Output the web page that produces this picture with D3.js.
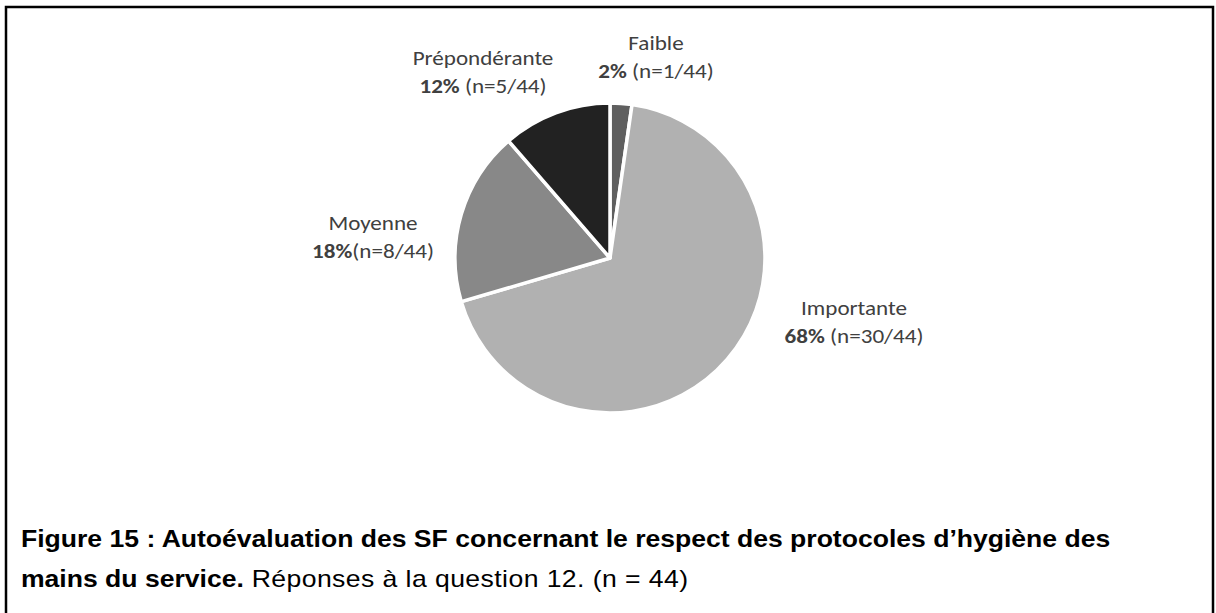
<!DOCTYPE html>
<html>
<head>
<meta charset="utf-8">
<script src="https://cdn.jsdelivr.net/npm/d3@7"></script>
<style>
  body { margin: 0; background: #fff; }
  svg { display: block; }
</style>
</head>
<body>
<svg id="chart"></svg>
<script>
// data
var categories = ["Faible", "Importante", "Moyenne", "Prépondérante"];
var counts = [1, 30, 8, 5];
var percents = ["2%", "68%", "18%", "12%"];
var nLabels = ["(n=1/44)", "(n=30/44)", "(n=8/44)", "(n=5/44)"];
var colors = ["#5f5f5f", "#b1b1b1", "#888888", "#222222"];

var width = 1216, height = 613;
var cx = 610, cy = 258, radius = 155;

var svg = d3.select("#chart")
    .attr("width", width)
    .attr("height", height);

// frame (open at the bottom, like the cropped figure)
svg.append("path")
    .attr("d", "M6," + height + " V7 H1213 V" + height)
    .attr("fill", "none")
    .attr("stroke", "#000")
    .attr("stroke-width", 2.5);

var pie = d3.pie().sort(null).value(function(d) { return d; });
var arc = d3.arc().innerRadius(0).outerRadius(radius);

var g = svg.append("g")
    .attr("transform", "translate(" + cx + "," + cy + ")");

g.selectAll("path")
    .data(pie(counts))
    .enter().append("path")
    .attr("d", arc)
    .attr("fill", function(d, i) { return colors[i]; })
    .attr("stroke", "#fff")
    .attr("stroke-width", 3.5)
    .attr("stroke-linejoin", "round");

// label spots relative to the pie centre (Excel best-fit placement)
var labelSpots = [[46, -208.5], [244, 56.5], [-237, -28.5], [-127, -193.5]];

var labels = g.selectAll("text.lbl")
    .data(categories)
    .enter().append("text")
    .attr("class", "lbl")
    .attr("text-anchor", "middle")
    .attr("font-family", "Carlito, Lato, sans-serif")
    .attr("font-size", "21px")
    .attr("fill", "#404040")
    .attr("transform", function(d, i) {
        return "translate(" + labelSpots[i][0] + "," + labelSpots[i][1] + ") scale(1.1,1)";
    });

labels.append("tspan")
    .attr("x", 0)
    .text(function(d) { return d; });

var line2 = labels.append("tspan")
    .attr("x", 0)
    .attr("dy", 29);
line2.append("tspan")
    .attr("font-weight", "bold")
    .text(function(d, i) { return percents[i]; });
line2.append("tspan")
    .text(function(d, i) { return (i == 2 ? "" : " ") + nLabels[i]; });

// caption (the source figure is slightly stretched sideways)
var caption = svg.append("text")
    .attr("font-family", "'Liberation Sans', Arial, sans-serif")
    .attr("font-size", "24px")
    .attr("fill", "#000")
    .attr("transform", "translate(21,0) scale(1.107,1)");

caption.append("tspan")
    .attr("x", 0)
    .attr("y", 547)
    .attr("font-weight", "bold")
    .text("Figure 15 : Autoévaluation des SF concernant le respect des protocoles d’hygiène des");

var c2 = caption.append("tspan")
    .attr("x", 0)
    .attr("y", 587);
c2.append("tspan")
    .attr("font-weight", "bold")
    .text("mains du service.");
c2.append("tspan")
    .attr("letter-spacing", 0.4)
    .text(" Réponses à la question 12. (n = 44)");
</script>
</body>
</html>
